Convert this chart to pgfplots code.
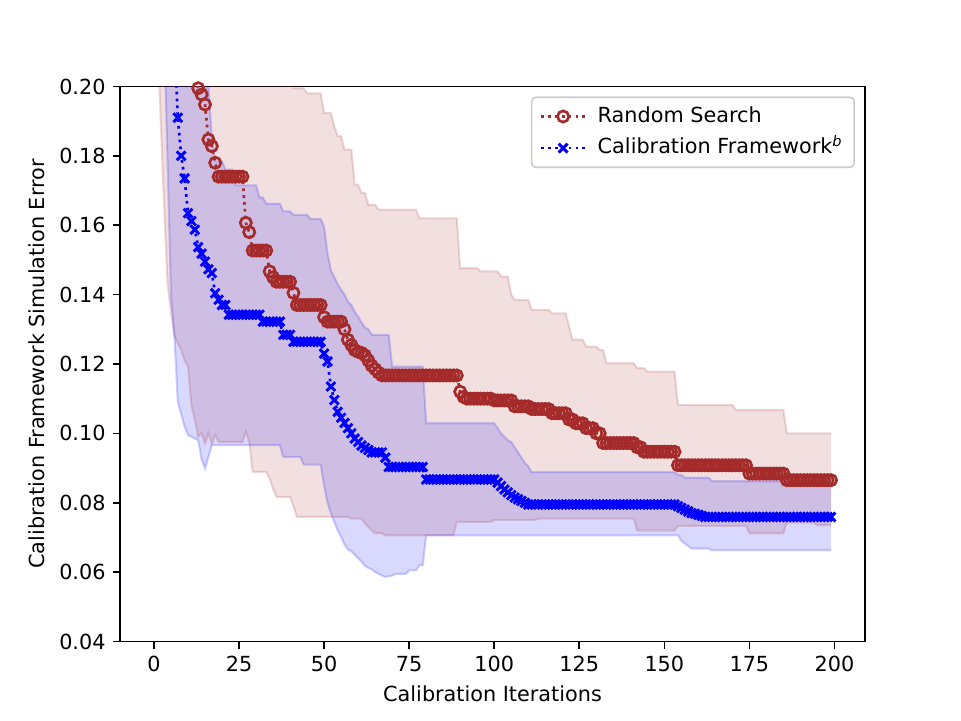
\documentclass[border=0pt]{standalone}
\usepackage{fontspec}
\setmainfont{DejaVu Sans}
\usepackage{pgfplots}
\pgfplotsset{compat=1.18}
\usepackage{pgfplotstable}
\usepgfplotslibrary{fillbetween}
\definecolor{rs}{RGB}{165,42,42}
\definecolor{cf}{RGB}{0,0,255}
\pgfplotstableread{
x r b ru rl bu bl
0 .3500 .4000 .3500 .3000 .4000 .3000
1 .3300 .3700 .3500 .2150 .4000 .2800
2 .3100 .3400 .3500 .1900 .4000 .2500
3 .2950 .3100 .3500 .1650 .4000 .2150
4 .2800 .2800 .3500 .1430 .4000 .1780
5 .2650 .2500 .3500 .1350 .4000 .1400
6 .2550 .2150 .3500 .1280 .4000 .1285
7 .2450 .1910 .3500 .1260 .4000 .1090
8 .2350 .1800 .3500 .1240 .4000 .1055
9 .2280 .1735 .3500 .1210 .4000 .1020
10 .2200 .1635 .3500 .1192 .4000 .0995
11 .2120 .1612 .3500 .1080 .4000 .0990
12 .2040 .1587 .3500 .1040 .4000 .0985
13 .1995 .1537 .3500 .0990 .4000 .0980
14 .1977 .1518 .3500 .1000 .4000 .0925
15 .1948 .1495 .3500 .0970 .4000 .0899
16 .1847 .1473 .3500 .1000 .2000 .0932
17 .1828 .1462 .3500 .0970 .1850 .0966
18 .1780 .1404 .3500 .0995 .1784 .0966
19 .1740 .1385 .3500 .0975 .1784 .0966
20 .1740 .1370 .3500 .0975 .1784 .0966
21 .1740 .1370 .3500 .0975 .1760 .0966
22 .1740 .1342 .3500 .0975 .1760 .0966
23 .1740 .1342 .3500 .0975 .1760 .0966
24 .1740 .1342 .3500 .0975 .1715 .0966
25 .1740 .1342 .3500 .0975 .1715 .0966
26 .1740 .1342 .3500 .0975 .1715 .0966
27 .1607 .1342 .3500 .1005 .1715 .0966
28 .1580 .1342 .3500 .0975 .1715 .0966
29 .1527 .1342 .3500 .0889 .1715 .0966
30 .1527 .1342 .3500 .0889 .1715 .0966
31 .1527 .1342 .3500 .0889 .1680 .0966
32 .1527 .1322 .3500 .0889 .1680 .0966
33 .1527 .1322 .3500 .0889 .1662 .0966
34 .1467 .1322 .3500 .0870 .1662 .0966
35 .1450 .1322 .3500 .0840 .1662 .0966
36 .1437 .1322 .3500 .0817 .1662 .0966
37 .1437 .1322 .3500 .0817 .1662 .0966
38 .1437 .1284 .3500 .0817 .1640 .0932
39 .1437 .1284 .3500 .0817 .1640 .0932
40 .1437 .1284 .3500 .0817 .1640 .0932
41 .1405 .1264 .1995 .0790 .1630 .0932
42 .1370 .1264 .1995 .0759 .1630 .0932
43 .1370 .1264 .1995 .0759 .1630 .0932
44 .1370 .1264 .1995 .0759 .1630 .0910
45 .1370 .1264 .1980 .0759 .1630 .0910
46 .1370 .1264 .1980 .0759 .1618 .0910
47 .1370 .1264 .1980 .0759 .1618 .0910
48 .1370 .1264 .1980 .0759 .1618 .0910
49 .1370 .1264 .1980 .0759 .1618 .0910
50 .1335 .1230 .1924 .0759 .1595 .0850
51 .1322 .1207 .1924 .0759 .1520 .0800
52 .1322 .1135 .1924 .0759 .1470 .0770
53 .1322 .1096 .1885 .0759 .1450 .0745
54 .1322 .1062 .1857 .0759 .1430 .0720
55 .1322 .1045 .1857 .0759 .1414 .0701
56 .1300 .1030 .1818 .0759 .1400 .0680
57 .1270 .1015 .1818 .0759 .1380 .0665
58 .1255 .1000 .1818 .0754 .1370 .0660
59 .1240 .0985 .1717 .0754 .1350 .0650
60 .1235 .0975 .1717 .0754 .1337 .0640
61 .1232 .0965 .1693 .0754 .1320 .0630
62 .1225 .0958 .1693 .0740 .1305 .0618
63 .1210 .0952 .1659 .0730 .1300 .0612
64 .1195 .0945 .1659 .0720 .1284 .0608
65 .1185 .0945 .1659 .0712 .1284 .0600
66 .1175 .0945 .1645 .0712 .1284 .0595
67 .1167 .0945 .1645 .0712 .1284 .0590
68 .1167 .0930 .1645 .0706 .1284 .0586
69 .1167 .0903 .1645 .0706 .1284 .0588
70 .1167 .0903 .1645 .0706 .1192 .0590
71 .1167 .0903 .1645 .0706 .1192 .0595
72 .1167 .0903 .1645 .0706 .1192 .0595
73 .1167 .0903 .1645 .0706 .1192 .0595
74 .1167 .0903 .1645 .0706 .1192 .0595
75 .1167 .0903 .1645 .0706 .1192 .0605
76 .1167 .0903 .1645 .0706 .1192 .0605
77 .1167 .0903 .1645 .0706 .1192 .0605
78 .1167 .0903 .1620 .0706 .1192 .0620
79 .1167 .0903 .1620 .0706 .1192 .0620
80 .1167 .0867 .1620 .0706 .1029 .0706
81 .1167 .0867 .1620 .0706 .1029 .0706
82 .1167 .0867 .1620 .0706 .1029 .0706
83 .1167 .0867 .1620 .0706 .1029 .0706
84 .1167 .0867 .1620 .0706 .1029 .0706
85 .1167 .0867 .1620 .0706 .1029 .0706
86 .1167 .0867 .1620 .0706 .1029 .0706
87 .1167 .0867 .1620 .0706 .1029 .0706
88 .1167 .0867 .1620 .0706 .1029 .0706
89 .1167 .0867 .1620 .0745 .1029 .0706
90 .1120 .0867 .1476 .0745 .1029 .0706
91 .1105 .0867 .1476 .0745 .1029 .0706
92 .1100 .0867 .1476 .0745 .1029 .0706
93 .1100 .0867 .1476 .0745 .1029 .0706
94 .1100 .0867 .1476 .0745 .1029 .0706
95 .1100 .0867 .1476 .0745 .1029 .0706
96 .1100 .0867 .1467 .0745 .1029 .0706
97 .1100 .0867 .1467 .0745 .1029 .0706
98 .1100 .0867 .1467 .0745 .1029 .0706
99 .1100 .0867 .1467 .0745 .1029 .0706
100 .1095 .0867 .1467 .0750 .1029 .0706
101 .1095 .0858 .1467 .0750 .1015 .0706
102 .1095 .0848 .1452 .0750 .1000 .0706
103 .1095 .0838 .1452 .0750 .0990 .0706
104 .1095 .0830 .1452 .0750 .0980 .0706
105 .1095 .0822 .1400 .0750 .0975 .0706
106 .1078 .0815 .1385 .0750 .0960 .0706
107 .1078 .0810 .1385 .0750 .0945 .0706
108 .1078 .0805 .1385 .0750 .0930 .0706
109 .1078 .0800 .1385 .0750 .0915 .0706
110 .1078 .0795 .1385 .0750 .0905 .0706
111 .1070 .0795 .1356 .0750 .0888 .0706
112 .1070 .0795 .1356 .0750 .0888 .0706
113 .1070 .0795 .1356 .0754 .0888 .0706
114 .1070 .0795 .1356 .0754 .0888 .0706
115 .1070 .0795 .1356 .0754 .0888 .0706
116 .1070 .0795 .1356 .0754 .0888 .0706
117 .1058 .0795 .1346 .0754 .0888 .0706
118 .1058 .0795 .1346 .0754 .0888 .0706
119 .1058 .0795 .1346 .0754 .0888 .0706
120 .1058 .0795 .1346 .0754 .0888 .0706
121 .1058 .0795 .1346 .0754 .0888 .0706
122 .1040 .0795 .1308 .0754 .0888 .0706
123 .1040 .0795 .1270 .0754 .0888 .0706
124 .1029 .0795 .1270 .0754 .0888 .0706
125 .1029 .0795 .1270 .0754 .0888 .0706
126 .1029 .0795 .1270 .0754 .0888 .0706
127 .1015 .0795 .1250 .0754 .0888 .0706
128 .1015 .0795 .1250 .0754 .0888 .0706
129 .1015 .0795 .1250 .0754 .0888 .0706
130 .1000 .0795 .1250 .0754 .0888 .0706
131 .1000 .0795 .1240 .0754 .0888 .0706
132 .0972 .0795 .1240 .0754 .0888 .0706
133 .0972 .0795 .1202 .0754 .0888 .0706
134 .0972 .0795 .1202 .0754 .0888 .0706
135 .0972 .0795 .1202 .0754 .0888 .0706
136 .0972 .0795 .1202 .0754 .0888 .0706
137 .0972 .0795 .1202 .0754 .0888 .0706
138 .0972 .0795 .1202 .0754 .0888 .0706
139 .0972 .0795 .1202 .0754 .0888 .0706
140 .0972 .0795 .1202 .0754 .0888 .0706
141 .0972 .0795 .1202 .0754 .0888 .0706
142 .0960 .0795 .1188 .0720 .0888 .0706
143 .0960 .0795 .1188 .0720 .0888 .0706
144 .0947 .0795 .1188 .0720 .0888 .0706
145 .0947 .0795 .1178 .0720 .0888 .0706
146 .0947 .0795 .1178 .0720 .0888 .0706
147 .0947 .0795 .1178 .0720 .0888 .0706
148 .0947 .0795 .1178 .0720 .0888 .0706
149 .0947 .0795 .1178 .0720 .0888 .0706
150 .0947 .0795 .1178 .0720 .0888 .0706
151 .0947 .0795 .1178 .0720 .0888 .0706
152 .0947 .0795 .1178 .0720 .0888 .0706
153 .0947 .0795 .1178 .0720 .0888 .0706
154 .0908 .0790 .1082 .0733 .0880 .0706
155 .0908 .0785 .1082 .0733 .0880 .0690
156 .0908 .0780 .1082 .0733 .0872 .0682
157 .0908 .0775 .1082 .0733 .0872 .0675
158 .0908 .0770 .1082 .0733 .0872 .0668
159 .0908 .0768 .1082 .0733 .0872 .0668
160 .0908 .0765 .1082 .0733 .0872 .0668
161 .0908 .0762 .1082 .0733 .0872 .0668
162 .0908 .0759 .1082 .0733 .0872 .0668
163 .0908 .0759 .1082 .0733 .0872 .0668
164 .0908 .0759 .1082 .0733 .0862 .0663
165 .0908 .0759 .1082 .0733 .0862 .0663
166 .0908 .0759 .1082 .0733 .0862 .0663
167 .0908 .0759 .1082 .0733 .0862 .0663
168 .0908 .0759 .1082 .0733 .0862 .0663
169 .0908 .0759 .1082 .0733 .0862 .0663
170 .0908 .0759 .1082 .0733 .0862 .0663
171 .0908 .0759 .1067 .0733 .0862 .0663
172 .0908 .0759 .1067 .0733 .0862 .0663
173 .0908 .0759 .1067 .0733 .0862 .0663
174 .0908 .0759 .1067 .0733 .0862 .0663
175 .0884 .0759 .1067 .0712 .0862 .0663
176 .0884 .0759 .1067 .0712 .0862 .0663
177 .0884 .0759 .1067 .0712 .0862 .0663
178 .0884 .0759 .1067 .0712 .0862 .0663
179 .0884 .0759 .1067 .0712 .0862 .0663
180 .0884 .0759 .1067 .0712 .0862 .0663
181 .0884 .0759 .1067 .0712 .0862 .0663
182 .0884 .0759 .1067 .0712 .0862 .0663
183 .0884 .0759 .1067 .0712 .0862 .0663
184 .0884 .0759 .1067 .0712 .0862 .0663
185 .0884 .0759 .1067 .0712 .0862 .0663
186 .0865 .0759 .1000 .0743 .0862 .0663
187 .0865 .0759 .1000 .0743 .0862 .0663
188 .0865 .0759 .1000 .0743 .0862 .0663
189 .0865 .0759 .1000 .0743 .0862 .0663
190 .0865 .0759 .1000 .0743 .0862 .0663
191 .0865 .0759 .1000 .0743 .0862 .0663
192 .0865 .0759 .1000 .0743 .0862 .0663
193 .0865 .0759 .1000 .0743 .0862 .0663
194 .0865 .0759 .1000 .0743 .0862 .0663
195 .0865 .0759 .1000 .0735 .0862 .0663
196 .0865 .0759 .1000 .0735 .0862 .0663
197 .0865 .0759 .1000 .0735 .0862 .0663
198 .0865 .0759 .1000 .0735 .0862 .0663
199 .0865 .0759 .1000 .0735 .0862 .0663
}\data
\begin{document}
\begin{tikzpicture}
\path (0,0) rectangle (6.4in,4.8in);
\begin{axis}[
  at={(0.8in,0.528in)}, anchor=south west, scale only axis,
  width=4.96in, height=3.696in,
  xmin=-9.95, xmax=208.95, ymin=0.04, ymax=0.20,
  xtick={0,25,50,75,100,125,150,175,200},
  ytick={0.04,0.06,0.08,0.10,0.12,0.14,0.16,0.18,0.20},
  yticklabel style={/pgf/number format/.cd, fixed, fixed zerofill, precision=2},
  /pgf/number format/assume math mode=true,
  tick align=outside, tick pos=left,
  major tick length=3.5pt,
  tick style={black, line width=0.8pt},
  axis line style={line width=0.8pt},
  xlabel={Calibration Iterations},
  ylabel={Calibration Framework Simulation Error},
  legend cell align=left,
  legend style={at={(1,1)}, anchor=north east, xshift=-4.8pt, yshift=-4.8pt,
    draw=black!20, line width=0.8pt, rounded corners=2pt,
    fill=white, fill opacity=0.8, text opacity=1,
    inner xsep=4pt, inner ysep=1.9pt, row sep=0.5pt, column sep=4pt,
    nodes={inner xsep=1.5pt, inner ysep=2.6pt, text height=0.75em, text depth=0.2em}},
  legend image code/.code={\draw[mark repeat=2,mark phase=2,#1] plot coordinates {(0pt,0pt) (10.5pt,0pt) (21pt,0pt)};},
]
\addplot[name path=ru, rs, draw opacity=0.18, line width=1pt, forget plot] table[x=x,y=ru]{\data};
\addplot[name path=rl, rs, draw opacity=0.18, line width=1pt, forget plot] table[x=x,y=rl]{\data};
\addplot[fill=rs, fill opacity=0.15, draw=none, forget plot] fill between[of=ru and rl];
\addplot[name path=bu, cf, draw opacity=0.18, line width=1pt, forget plot] table[x=x,y=bu]{\data};
\addplot[name path=bl, cf, draw opacity=0.18, line width=1pt, forget plot] table[x=x,y=bl]{\data};
\addplot[fill=cf, fill opacity=0.15, draw=none, forget plot] fill between[of=bu and bl];
\addplot[rs, line width=1.3pt, dash pattern=on 1.3pt off 2pt, mark=o, mark size=2.7pt, mark options={solid, line width=1.3pt}] table[x=x,y=r]{\data};
\addlegendentry{Random Search}
\addplot[cf, line width=1.3pt, dash pattern=on 1.3pt off 2pt, mark=x, mark size=3pt, mark options={solid, line width=1.4pt}] table[x=x,y=b]{\data};
\addlegendentry{Calibration Framework\textsuperscript{\itshape b}}
\end{axis}
\end{tikzpicture}
\end{document}
